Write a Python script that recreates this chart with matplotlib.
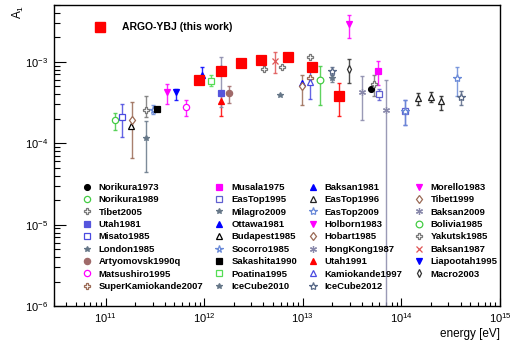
import matplotlib
matplotlib.use("Agg")
import matplotlib.pyplot as plt
from matplotlib.lines import Line2D
import numpy as np

plt.rcParams['font.family'] = ['Liberation Sans', 'DejaVu Sans']
plt.rcParams['mathtext.fontset'] = 'custom'
plt.rcParams['mathtext.rm'] = 'Liberation Sans'
plt.rcParams['mathtext.it'] = 'Liberation Sans:italic'
plt.rcParams['mathtext.bf'] = 'Liberation Sans:bold'

# each series: energy [eV], A1, lower end of error bar, upper end of error bar
argo = ([8.79e11, 1.5e12, 2.39e12, 3.81e12, 7.1e12, 1.23e13, 2.34e13],
        [6.03e-4, 7.83e-4, 9.64e-4, 1.04e-3, 1.14e-3, 8.69e-4, 3.82e-4],
        [6.03e-4, 7.83e-4, 9.64e-4, 1.04e-3, 1.14e-3, 8.69e-4, 2.15e-4],
        [6.03e-4, 7.83e-4, 9.64e-4, 1.04e-3, 1.14e-3, 8.69e-4, 5.5e-4])

norikura1973 = ([4.98e13], [4.69e-4], [4.69e-4], [4.69e-4])
norikura1989 = ([1.24e11], [1.95e-4], [1.44e-4], [2.37e-4])
tibet2005 = ([4.05e12, 6.17e12, 1.19e13, 5.26e13],
             [8.14e-4, 8.77e-4, 1.14e-3, 5.39e-4],
             [8.14e-4, 8.77e-4, 1.14e-3, 3.78e-4],
             [8.14e-4, 8.77e-4, 1.14e-3, 6.93e-4])
utah1981 = ([1.47e12], [4.15e-4], [4.15e-4], [4.15e-4])
misato1985 = ([1.46e11], [2.13e-4], [1.19e-4], [3.05e-4])
london1985 = ([2.57e11], [1.17e-4], [4.4e-5], [1.9e-4])
artyomovsk1990q = ([1.79e12], [4.15e-4], [3.13e-4], [5.0e-4])
matsushiro1995 = ([6.6e11], [2.77e-4], [2.15e-4], [3.44e-4])
superkamiokande2007 = ([1.19e13], [6.33e-4], [6.33e-4], [6.33e-4])
musala1975 = ([5.85e13], [7.83e-4], [5.25e-4], [1.03e-3])
eastop1995 = ([5.92e13, 1.09e14], [4.04e-4, 2.52e-4], [3.44e-4, 1.66e-4], [4.66e-4, 3.44e-4])
milagro2009 = ([5.94e12], [3.97e-4], [3.97e-4], [3.97e-4])
ottawa1981 = ([9.5e11], [6.93e-4], [5.6e-4], [8.77e-4])
budapest1985 = ([1.81e11], [1.64e-4], [1.64e-4], [1.64e-4])
socorro1985 = ([3.05e11], [2.6e-4], [2.26e-4], [2.94e-4])
sakashita1990 = ([3.3e11], [2.65e-4], [2.65e-4], [2.65e-4])
poatina1995 = ([1.18e12], [5.86e-4], [5.0e-4], [6.94e-4])
icecube2010 = ([1.98e13], [6.25e-4], [5.6e-4], [6.9e-4])
baksan1981 = ([9.84e12], [5.5e-4], [5.5e-4], [5.5e-4])
eastop1996 = ([1.48e14, 1.98e14, 2.5e14], [3.57e-4, 3.71e-4, 3.28e-4],
              [2.99e-4, 3.19e-4, 2.6e-4], [4.15e-4, 4.27e-4, 3.85e-4])
eastop2009 = ([1.09e14, 3.69e14], [2.52e-4, 6.33e-4], [1.66e-4, 3.78e-4], [3.44e-4, 8.77e-4])
holborn1983 = ([4.16e11], [4.31e-4], [3.01e-4], [5.35e-4])
hobart1985 = ([1.87e11], [1.95e-4], [6.56e-5], [3.23e-4])
hongkong1987 = ([3.97e13, 6.97e13], [4.31e-4, 2.6e-4], [1.92e-4, 5e-7], [6.62e-4, 6.03e-4])
utah1991 = ([1.5e12], [3.34e-4], [2.15e-4], [3.97e-4])
kamiokande1997 = ([1.19e13], [5.6e-4], [3.54e-4], [7.62e-4])
icecube2012 = ([1.98e13, 3.99e14], [7.77e-4, 3.67e-4], [6.9e-4, 2.99e-4], [8.77e-4, 4.43e-4])
morello1983 = ([2.95e13], [2.9e-3], [1.95e-3], [3.74e-3])
tibet1999 = ([9.84e12], [5.0e-4], [2.99e-4], [6.93e-4])
baksan2009 = ([1.5e12], [8.52e-4], [2.83e-4], [1.16e-3])
bolivia1985 = ([1.49e13], [5.98e-4], [2.99e-4], [8.93e-4])
yakutsk1985 = ([2.57e11], [2.55e-4], [2.1e-4], [3.85e-4])
baksan1987 = ([5.2e12], [1.03e-3], [7.28e-4], [1.31e-3])
liapootah1995 = ([5.14e11], [4.27e-4], [3.44e-4], [4.69e-4])
macro2003 = ([2.95e13], [8.14e-4], [5.5e-4], [1.08e-3])

grey = '#777777'
brown = '#9a6a55'
asterisk = (6, 2, 0)

# label, data, marker, colour, open marker, marker size (legend order)
series = [
    ('Norikura1973', norikura1973, 'o', 'black', False, 4.2),
    ('Norikura1989', norikura1989, 'o', '#44cc44', True, 4.5),
    ('Tibet2005', tibet2005, 'P', grey, True, 4.6),
    ('Utah1981', utah1981, 's', '#5555dd', False, 4.2),
    ('Misato1985', misato1985, 's', '#4a4ae0', True, 4.5),
    ('London1985', london1985, '*', '#667788', False, 3.8),
    ('Artyomovsk1990q', artyomovsk1990q, 'o', '#a06a6a', False, 4.5),
    ('Matsushiro1995', matsushiro1995, 'o', '#ff00ff', True, 4.5),
    ('SuperKamiokande2007', superkamiokande2007, 'P', brown, True, 4.6),
    ('Musala1975', musala1975, 's', '#ff00ff', False, 4.2),
    ('EasTop1995', eastop1995, 's', '#6060d0', True, 4.5),
    ('Milagro2009', milagro2009, '*', '#667788', False, 3.8),
    ('Ottawa1981', ottawa1981, '^', '#0000ff', False, 4.5),
    ('Budapest1985', budapest1985, '^', 'black', True, 4.6),
    ('Socorro1985', socorro1985, '*', '#6a8ad8', True, 5.5),
    ('Sakashita1990', sakashita1990, 's', 'black', False, 4.2),
    ('Poatina1995', poatina1995, 's', '#55dd55', True, 4.5),
    ('IceCube2010', icecube2010, '*', '#667788', False, 3.8),
    ('Baksan1981', baksan1981, '^', '#0000ff', False, 4.5),
    ('EasTop1996', eastop1996, '^', '#222222', True, 4.8),
    ('EasTop2009', eastop2009, '*', '#6a8ad8', True, 6),
    ('Holborn1983', holborn1983, 'v', '#ff00ff', False, 4.5),
    ('Hobart1985', hobart1985, 'd', brown, True, 4.5),
    ('HongKong1987', hongkong1987, asterisk, '#8888aa', False, 5),
    ('Utah1991', utah1991, '^', '#ff0000', False, 4.5),
    ('Kamiokande1997', kamiokande1997, '^', '#4a4ae0', True, 4.8),
    ('IceCube2012', icecube2012, '*', '#5a6a88', True, 6),
    ('Morello1983', morello1983, 'v', '#ff00ff', False, 4.5),
    ('Tibet1999', tibet1999, 'd', brown, True, 4.5),
    ('Baksan2009', baksan2009, asterisk, '#8888aa', False, 5),
    ('Bolivia1985', bolivia1985, 'o', '#44cc44', True, 4.8),
    ('Yakutsk1985', yakutsk1985, 'P', grey, True, 4.6),
    ('Baksan1987', baksan1987, 'x', '#e05555', False, 4.5),
    ('Liapootah1995', liapootah1995, 'v', '#0000ff', False, 4.5),
    ('Macro2003', macro2003, 'd', '#333333', True, 4.2),
]

fig = plt.figure(figsize=(5.17, 3.47), dpi=100)
ax = fig.add_axes([0.1044, 0.118, 0.8626, 0.8676])
ax.set_xscale('log')
ax.set_yscale('log')
ax.set_xlim(3e10, 1e15)
ax.set_ylim(1e-6, 5e-3)


def draw(data, marker, color, is_open, ms, z=3):
    e, a, lo, hi = (np.array(v, dtype=float) for v in data)
    mfc = 'white' if is_open else color
    if marker in ('x', asterisk):
        mfc = color
    has_err = hi > lo
    if has_err.any():
        ax.errorbar(e[has_err], a[has_err],
                    yerr=[a[has_err] - lo[has_err], hi[has_err] - a[has_err]],
                    fmt='none', ecolor=color, elinewidth=1.0, capsize=1.6,
                    capthick=1.0, alpha=0.85, zorder=z - 1)
    ax.plot(e, a, ls='none', marker=marker, ms=ms, mfc=mfc, mec=color,
            mew=0.9, zorder=z)


handles = []
for label, data, marker, color, is_open, ms in series:
    draw(data, marker, color, is_open, ms)
    mfc = 'white' if is_open else color
    if marker in ('x', asterisk):
        mfc = color
    handles.append(Line2D([], [], ls='none', marker=marker, ms=ms,
                          mfc=mfc, mec=color, mew=0.9, label=label))

draw(argo, 's', '#ff0000', False, 7.5, z=5)

leg = ax.legend(handles=handles, ncol=4, loc='upper left',
                bbox_to_anchor=(0.1590, 0.473), bbox_transform=fig.transFigure,
                frameon=False, borderpad=0, borderaxespad=0,
                handlelength=1.0, handletextpad=0.75, columnspacing=1.2,
                labelspacing=0.36, prop={'size': 6.8, 'weight': 'bold'})
ax.add_artist(leg)

argo_handle = Line2D([], [], ls='none', marker='s', ms=7.5, mfc='#ff0000',
                     mec='#ff0000', label='ARGO-YBJ (this work)')
ax.legend(handles=[argo_handle], loc='upper left',
          bbox_to_anchor=(0.178, 0.936), bbox_transform=fig.transFigure,
          frameon=False, borderpad=0, borderaxespad=0,
          handlelength=1.5, handletextpad=1.35,
          prop={'size': 7.5, 'weight': 'bold'})

ax.tick_params(which='both', direction='in', top=False, right=False,
               labelsize=8, pad=4, width=0.8)
ax.tick_params(axis='x', which='major', length=6)
ax.tick_params(axis='x', which='minor', length=3)
ax.tick_params(axis='y', which='major', length=8.5)
ax.tick_params(axis='y', which='minor', length=4.5)
for sp in ax.spines.values():
    sp.set_linewidth(1.0)

ax.set_xlabel('energy [eV]', loc='right', fontsize=8.5, labelpad=2)
fig.text(0.035, 0.985, 'A$_1$', rotation=90, ha='center', va='top', fontsize=8.5)

fig.savefig('out.png', dpi=100)
